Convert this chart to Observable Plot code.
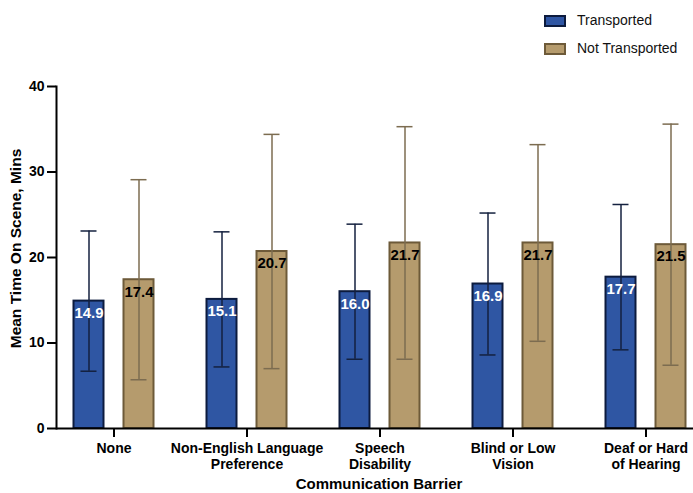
<!DOCTYPE html>
<html>
<head>
<meta charset="utf-8">
<script src="https://cdn.jsdelivr.net/npm/d3@7"></script>
<script src="https://cdn.jsdelivr.net/npm/@observablehq/plot@0.6"></script>
<style>
  html, body { margin: 0; padding: 0; background: #fff; }
  #wrap { position: relative; width: 693px; font-family: "Liberation Sans", Arial, sans-serif; }
  #legend { position: relative; height: 66px; }
  .sw { position: absolute; left: 544px; width: 22px; height: 12px; box-sizing: border-box; border: 2px solid; }
  .lt { position: absolute; left: 577px; font-size: 14px; line-height: 14px; color: #111; white-space: nowrap; }
  svg { display: block; }
</style>
</head>
<body>
<div id="wrap">
  <div id="legend"></div>
  <div id="chart"></div>
</div>
<script>
const categories = ["None", "Non-English Language Preference", "Speech Disability", "Blind or Low Vision", "Deaf or Hard of Hearing"];
const tickLabels = ["None", "Non-English Language\nPreference", "Speech\nDisability", "Blind or Low\nVision", "Deaf or Hard\nof Hearing"];
const seriesNames = ["Transported", "Not Transported"];
const transportedMeans = [14.9, 15.1, 16.0, 16.9, 17.7];
const transportedSD = [8.2, 7.9, 7.9, 8.3, 8.5];
const notTransportedMeans = [17.4, 20.7, 21.7, 21.7, 21.5];
const notTransportedSD = [11.7, 13.7, 13.6, 11.5, 14.1];
const yTicks = [0, 10, 20, 30, 40];
const yLabel = "Mean Time On Scene, Mins";
const xLabel = "Communication Barrier";

const colors = {
  tFill: "#2f56a3", tStroke: "#0c1b3e", tErr: "#14213f",
  nFill: "#b59b6d", nStroke: "#6d5a39", nErr: "#7c6c50"
};

// legend
const legend = document.getElementById("legend");
[[seriesNames[0], colors.tFill, colors.tStroke, 15, 13], [seriesNames[1], colors.nFill, colors.nStroke, 43, 41]].forEach(([name, f, s, st, tt]) => {
  const sw = document.createElement("div");
  sw.className = "sw"; sw.style.top = st + "px"; sw.style.background = f; sw.style.borderColor = s;
  legend.appendChild(sw);
  const t = document.createElement("div");
  t.className = "lt"; t.style.top = tt + "px"; t.textContent = name;
  legend.appendChild(t);
});

const tData = categories.map((c, i) => ({category: c, mean: transportedMeans[i], sd: transportedSD[i]}));
const nData = categories.map((c, i) => ({category: c, mean: notTransportedMeans[i], sd: notTransportedSD[i]}));

const chart = Plot.plot({
  width: 693,
  height: 427,
  marginLeft: 56,
  marginRight: 0,
  marginTop: 20,
  marginBottom: 65,
  style: {fontFamily: "Liberation Sans, Arial, sans-serif", fontSize: "14px", fontWeight: "bold", color: "#000", background: "#fff"},
  x: {domain: categories, range: [47, 712], padding: 0},
  y: {domain: [0, 40]},
  marks: [
    Plot.barY(tData, {x: "category", y: "mean", fill: colors.tFill, stroke: colors.tStroke, strokeWidth: 2, insetLeft: 26.5, insetRight: 76.5}),
    Plot.barY(nData, {x: "category", y: "mean", fill: colors.nFill, stroke: colors.nStroke, strokeWidth: 2, insetLeft: 76.5, insetRight: 26.5}),
    Plot.ruleX(tData, {x: "category", y1: d => d.mean - d.sd, y2: d => d.mean + d.sd, dx: -25, stroke: colors.tErr, strokeWidth: 1.5}),
    Plot.tickY(tData, {x: "category", y: d => d.mean + d.sd, insetLeft: 33.5, insetRight: 83.5, stroke: colors.tErr, strokeWidth: 1.5}),
    Plot.tickY(tData, {x: "category", y: d => d.mean - d.sd, insetLeft: 33.5, insetRight: 83.5, stroke: colors.tErr, strokeWidth: 1.5}),
    Plot.ruleX(nData, {x: "category", y1: d => d.mean - d.sd, y2: d => d.mean + d.sd, dx: 25, stroke: colors.nErr, strokeWidth: 1.5}),
    Plot.tickY(nData, {x: "category", y: d => d.mean + d.sd, insetLeft: 83.5, insetRight: 33.5, stroke: colors.nErr, strokeWidth: 1.5}),
    Plot.tickY(nData, {x: "category", y: d => d.mean - d.sd, insetLeft: 83.5, insetRight: 33.5, stroke: colors.nErr, strokeWidth: 1.5}),
    Plot.text(tData, {x: "category", y: "mean", text: d => d.mean.toFixed(1), dx: -25, dy: 12, fill: "#fff", fontSize: 15, fontWeight: "bold"}),
    Plot.text(nData, {x: "category", y: "mean", text: d => d.mean.toFixed(1), dx: 25, dy: 12, fill: "#000", fontSize: 15, fontWeight: "bold"}),
    Plot.axisY({ticks: yTicks, tickSize: 9, tickPadding: 3, label: null, strokeWidth: 2, fontSize: 14, fontWeight: "bold"}),
    Plot.axisX({tickFormat: d => tickLabels[categories.indexOf(d)], tickSize: 9, tickPadding: 4, label: null, strokeWidth: 2, fontSize: 14, fontWeight: "bold", lineHeight: 1.15}),
    Plot.frame({anchor: "left", strokeWidth: 2}),
    Plot.ruleY([0], {strokeWidth: 2}),
    Plot.text([yLabel], {frameAnchor: "left", dx: -40, dy: -9, rotate: -90, textAnchor: "middle", fontSize: 15.5, fontWeight: "bold", lineAnchor: "middle"}),
    Plot.text([xLabel], {frameAnchor: "bottom", dx: 4, dy: 56, fontSize: 15, fontWeight: "bold", lineAnchor: "middle"})
  ]
});
document.getElementById("chart").appendChild(chart);
</script>
</body>
</html>
